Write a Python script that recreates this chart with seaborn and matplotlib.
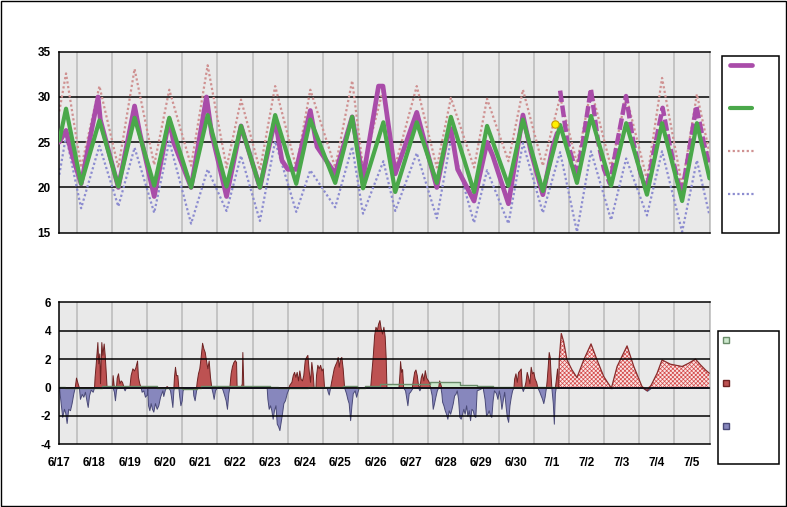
import numpy as np
import pandas as pd
import matplotlib
matplotlib.use("Agg")
import matplotlib.pyplot as plt
import seaborn as sns
from matplotlib.patches import Rectangle
from matplotlib.lines import Line2D

# --- data (time in hours from 6/17 00:00) --------------------------------
day_labels = ["6/17", "6/18", "6/19", "6/20", "6/21", "6/22", "6/23", "6/24",
              "6/25", "6/26", "6/27", "6/28", "6/29", "6/30", "7/1", "7/2",
              "7/3", "7/4", "7/5"]

# daily turning points shared by the guidance lines
turn_h = [0, 4.6, 14.9, 27.4, 40.3, 51.4, 64.8, 75.1, 90, 101.3,
          114.2, 124.1, 137, 147.4, 161.8, 171.4, 188.4, 200, 207.4, 221.3,
          229.4, 244.1, 257.8, 267.4, 283.2, 292.1, 306.7, 316.6, 330.2, 342,
          353.5, 363.1, 376.8, 387.1, 401.3, 411.6, 425.3, 435.4, 444]
green_t = [25.2, 28.7, 20.4, 27.4, 20.1, 27.7, 20.2, 27.7, 20.0, 28.0,
           20.1, 26.8, 20.0, 28.0, 20.4, 27.5, 20.5, 27.8, 19.9, 27.2,
           19.5, 27.2, 20.5, 27.8, 19.5, 26.8, 20.2, 27.5, 19.6, 26.9,
           20.5, 27.9, 20.2, 27.1, 19.2, 27.1, 18.5, 27.1, 21.0]
high_t = [28.4, 32.6, 22.2, 31.2, 22.2, 33.1, 22.5, 30.8, 22.4, 33.5,
          22.2, 29.7, 21.9, 31.2, 22.2, 30.8, 22.2, 31.8, 22.2, 30.9,
          22.4, 31.2, 22.2, 29.9, 22.2, 29.8, 22.9, 30.8, 22.4, 30.0,
          22.7, 30.9, 22.2, 30.1, 20.9, 32.1, 20.2, 30.3, 23.8]
low_t = [21.4, 25.7, 17.7, 24.6, 17.9, 24.4, 17.2, 25.1, 16.0, 22.0,
         17.4, 23.5, 16.3, 25.1, 17.3, 21.9, 17.8, 24.5, 17.1, 22.9,
         17.4, 23.8, 16.6, 25.3, 16.1, 21.9, 16.0, 24.9, 17.2, 23.9,
         15.1, 24.0, 16.4, 23.2, 16.9, 24.0, 15.1, 23.0, 16.9]

observed = [(0, 25.0), (4.6, 26.3), (8, 24.0), (14.9, 20.4), (26.5, 30.0), (28, 27.5),
            (40.3, 20.0), (51.4, 29.0), (55, 26.0), (64.8, 19.0), (75.1, 27.5),
            (78, 25.0), (90, 20.0), (100.5, 30.0), (104, 26.0), (114.2, 19.0),
            (124.1, 26.8), (137, 20.0), (147.4, 27.5), (152, 23.0), (156, 22.0),
            (161.8, 22.0), (171.4, 28.5), (176, 24.5), (188.4, 21.5), (200, 27.8),
            (207.4, 21.0), (218, 31.2), (221, 31.2), (229.4, 21.5), (244.1, 28.3),
            (257.8, 20.0), (264, 25.0), (267.4, 26.5), (272, 22.0), (283.2, 18.5),
            (292.1, 25.0), (296, 23.5), (306.7, 18.2), (316.6, 28.0), (322, 24.0),
            (330.2, 19.2), (337, 24.5), (340, 26.0)]
forecast = [(342, 30.7), (347, 25.0), (351, 22.8), (353, 21.0), (358, 25.5),
            (363, 30.9), (368, 25.0), (372, 22.0), (376, 20.4), (381, 25.0),
            (387, 30.1), (392, 25.0), (397, 21.5), (401, 19.7), (406, 24.0),
            (412, 28.8), (417, 24.5), (422, 21.0), (425, 19.3), (429, 23.0),
            (435, 29.0), (440, 25.0), (444, 22.4)]
latest_obs = (338.7, 27.0)

# departure from normal (observed part)
departure = [
    (0, -0.2), (1.1, -1.25), (2.0, -2.07), (3.2, -1.5), (4.1, -1.8), (5.0, -2.5), (6.1, -1.5),
    (7.3, -1.6), (8.4, -1.1), (9.6, -0.4), (10.5, 0), (11.4, 0.7), (12.5, 0.3), (13.4, 0),
    (14.1, -0.8), (15.3, -0.45), (16.4, -0.65), (17.5, -0.3), (18.7, -1.0), (19.4, -1.37),
    (20.3, -0.55), (21.4, -0.15), (22.8, -0.3), (23.7, 0), (24.1, 0.75), (24.8, 1.6), (26.0, 3.2),
    (26.6, 1.7), (27.3, 2.4), (27.8, 0.3), (28.7, 3.2), (29.4, 2.3), (30.3, 3.1), (31.0, 2.3),
    (31.9, 0.75), (32.3, 0), (36.0, 0), (36.4, 0.87), (37.3, -0.3), (38.0, -0.9), (38.7, -0.2),
    (39.2, 0.7), (40.1, 1.0), (41.0, 0.3), (41.9, 0.5), (42.8, 0.4), (43.7, 0.1), (44.6, -0.2),
    (45.5, 0), (47.8, 0), (48.7, 0.87), (49.9, 1.35), (51.0, 1.2), (51.9, 1.4), (53.1, 1.9),
    (53.7, 0.75), (54.6, 0.3), (55.6, 0), (56.2, -0.3), (57.4, -0.2), (58.5, -0.65), (59.7, -0.5),
    (60.1, -0.1), (60.6, -1.25), (61.5, -1.6), (62.4, -1.1), (63.3, -1.5), (64.2, -1.7),
    (65.3, -1.1), (66.5, -1.5), (67.6, -1.25), (68.8, -0.65), (70.4, -0.2), (71.0, -0.6),
    (72.2, -0.1), (73.3, 0.1), (74.5, 0), (75.6, -0.2), (76.3, -0.65), (77.2, -1.37), (77.9, -0.2),
    (78.3, 0.75), (79.0, 1.46), (79.7, 0.87), (80.6, 0.87), (81.3, 0), (81.9, -0.6), (82.7, -1.25),
    (83.6, -0.9), (84.2, -0.2), (85.2, 0), (91.1, 0), (91.5, -0.55), (92.4, -0.9), (93.4, -0.2),
    (93.8, 0.4), (94.7, 1.0), (95.6, 1.35), (96.5, 2.15), (97.5, 3.15), (98.4, 2.75), (99.3, 2.5),
    (100.2, 1.9), (101.1, 1.35), (102.0, 1.9), (102.9, 0.75), (103.8, 0), (104.7, -0.4),
    (105.4, -0.8), (106.3, -0.2), (107.5, 0), (110.9, 0), (111.6, -0.2), (112.5, -0.5),
    (113.6, -0.9), (114.5, -1.5), (115.4, -0.4), (116.1, 0), (117.0, 1.0), (117.9, 1.5),
    (118.9, 1.8), (119.8, 1.93), (120.7, 1.8), (121.1, 0), (123.9, 0), (124.6, 0.3), (125.0, 2.5),
    (125.7, 0), (141.6, 0), (142.1, -0.8), (143.0, -1.5), (143.9, -1.25), (144.8, -1.6),
    (145.7, -2.2), (146.6, -1.6), (147.6, -1.25), (148.5, -2.55), (149.4, -2.73), (150.3, -3.0),
    (151.2, -2.4), (152.1, -1.8), (153.0, -1.1), (154.1, -0.9), (155.3, -0.4), (156.4, -0.1),
    (157.1, 0.2), (158.5, 0.4), (159.4, 0.87), (160.3, 1.1), (161.2, 0.75), (162.1, 1.1),
    (163.0, 0.5), (163.9, 1.2), (164.8, 0.6), (165.7, 0.5), (166.6, 0.87), (167.6, 1.93),
    (168.5, 2.15), (169.4, 2.3), (170.3, 1.2), (171.2, 0.4), (172.1, 1.8), (173.0, 1.0),
    (173.7, 0), (174.9, 0), (175.3, 0.87), (176.2, 1.6), (177.1, 1.35), (178.1, 1.6), (179.0, 1.2),
    (179.9, 1.35), (180.8, 0), (182.6, 0), (183.3, -0.3), (184.0, -0.5), (184.9, 0), (185.6, 0.4),
    (186.5, 0.87), (187.4, 1.35), (188.3, 1.6), (189.2, 1.8), (190.1, 2.15), (190.8, 1.46),
    (191.7, 2.05), (192.6, 2.15), (193.5, 1.35), (194.5, 0), (195.8, -0.4), (196.7, -0.8),
    (197.6, -1.1), (198.6, -2.3), (199.5, -1.25), (200.4, -0.4), (201.7, -0.2), (202.7, -0.65),
    (203.6, -0.3), (204.5, 0), (211.8, 0), (212.3, 0.05), (213.2, 1.2), (214.1, 2.3), (215.0, 3.7),
    (215.9, 4.28), (216.8, 4.05), (217.7, 4.5), (218.6, 4.75), (219.5, 4.15), (220.4, 3.8),
    (221.3, 4.28), (222.2, 3.6), (222.9, 2.05), (223.4, 0), (231.6, 0), (232.3, 1.0),
    (232.7, 1.86), (233.4, 1.1), (234.1, 1.3), (234.8, 0), (236.1, -0.2), (236.8, -0.65),
    (237.7, -1.25), (238.6, -0.4), (239.5, -0.3), (240.7, -0.1), (241.4, 0.5), (242.3, 1.1),
    (243.2, 1.27), (244.1, 0.87), (245.0, 0.15), (245.9, -0.2), (246.8, 0.7), (247.7, 1.0),
    (248.6, 0.5), (249.6, 1.22), (250.5, 0.7), (251.4, 0.56), (252.3, 0.4), (253.2, 0),
    (254.3, -0.55), (255.0, -1.5), (255.9, -1.1), (256.8, -0.65), (257.8, -0.2), (258.7, 0),
    (259.4, 0.5), (260.3, 0.2), (260.9, -0.4), (261.4, -1.0), (262.3, -1.25), (263.2, -1.6),
    (264.1, -1.85), (265.0, -2.2), (265.9, -1.6), (266.9, -1.85), (267.8, -1.5), (268.7, -1.1),
    (269.6, -0.55), (270.5, -0.45), (271.4, -0.2), (272.3, -0.8), (273.2, -2.07), (274.1, -2.2),
    (275.0, -1.85), (275.9, -1.5), (276.8, -1.85), (277.8, -1.25), (278.7, -2.0), (279.6, -1.6),
    (280.5, -2.3), (281.4, -1.5), (282.3, -1.6), (283.2, -2.0), (284.1, -2.07), (285.0, -0.2),
    (287.3, -0.1), (289.1, 0), (290.4, -0.8), (291.4, -1.95), (292.3, -1.85), (293.2, -1.6),
    (294.1, -1.95), (295.0, -2.07), (295.9, -0.9), (296.8, -0.2), (298.2, -0.4), (299.2, -0.8),
    (300.1, -0.2), (301.0, -0.65), (301.9, -1.5), (302.8, -0.9), (303.8, -0.3), (304.7, -1.25),
    (305.6, -2.07), (306.5, -2.42), (307.4, -1.25), (308.3, -0.65), (309.2, -0.2), (310.1, 0),
    (310.6, 0.63), (311.5, 1.0), (312.4, 0.4), (313.3, 1.1), (314.2, 1.2), (315.1, 1.34),
    (315.8, 0), (316.5, -0.25), (317.4, 0), (318.3, 0.4), (319.2, 1.1), (320.1, 0.75),
    (321.0, 0.3), (321.9, 1.46), (322.8, 1.0), (323.7, 1.1), (324.6, 0.63), (325.6, 0.4),
    (326.5, 0), (327.8, -0.3), (328.7, -0.55), (329.6, -0.78), (330.5, -1.1), (331.4, -0.65),
    (332.3, 0), (332.8, 0.5), (333.5, 1.46), (334.2, 2.5), (334.9, 2.15), (335.5, 0.87),
    (336.0, 0), (337.0, -1.1), (337.7, -2.55), (338.4, -0.4), (339.0, 0.5), (339.9, 1.34),
    (340.6, 0.3), (341.0, 0)]

# forecast departure (hatched)
forecast_dep = [(341.0, 0), (341.4, 2.0), (342.8, 3.8), (344.4, 3.23), (346.7, 1.94),
                (350.1, 1.24), (353.5, 0.7), (358.1, 1.94), (363.1, 3.07), (367.2, 1.94),
                (371.8, 0.77), (377.0, -0.05), (380.9, 1.48), (387.7, 2.93), (392.3, 1.48),
                (397.9, 0.07), (401.4, -0.23), (404.3, 0.19), (408.2, 1.0), (411.6, 1.94),
                (417.3, 1.64), (425.3, 1.48), (429.8, 1.71), (434.4, 2.0), (437.8, 1.6),
                (441.2, 1.24), (443.9, 1.0)]

# slowly varying mean departure (green steps)
bias_h = [0, 3.8, 29, 66.5, 83.5, 94, 97, 144, 149.5, 170, 194, 203, 209,
          219, 253, 273.6, 285, 296.4, 341]
bias_v = [0.07, 0, 0.1, 0, -0.08, 0, 0.14, 0.07, 0, 0.07, 0.12, 0, 0.14,
          0.26, 0.36, 0.21, 0.14, 0.07, 0.07]

# --- colours ---------------------------------------------------------------
c_obs = "#a94ca9"
c_green = "#4aa84a"
c_high = "#cf9191"
c_low = "#8c8cd0"
c_red, c_red_edge = "#bd5252", "#6e2222"
c_blue, c_blue_edge = "#8787bd", "#4a4a78"
c_bias, c_bias_edge = "#cde9cd", "#6a8c6a"
c_grid_v = "#b9b9b9"
c_bg = "#e9e9e9"

sns.set_style("white")
plt.rcParams["font.family"] = ["Liberation Sans", "DejaVu Sans"]
plt.rcParams["axes.unicode_minus"] = False
plt.rcParams["hatch.linewidth"] = 0.5

W, H = 787, 507
fig = plt.figure(figsize=(W / 100, H / 100), dpi=100)
x0, x1 = 59.3, 709.5
ax1 = fig.add_axes([x0 / W, 1 - 232.7 / H, (x1 - x0) / W, (232.7 - 51.7) / H])
ax2 = fig.add_axes([x0 / W, 1 - 444.3 / H, (x1 - x0) / W, (444.3 - 302.3) / H])


def style_axis(ax, ylim, yticks):
    ax.set_facecolor(c_bg)
    ax.set_xlim(0, 18.5)
    ax.set_ylim(*ylim)
    ax.set_yticks(yticks)
    ax.set_xticks(np.arange(19))
    for d in np.arange(19) + 0.5:
        ax.axvline(d, color=c_grid_v, lw=1.1, zorder=0.5)
    for sp in ["left", "bottom", "top"]:
        ax.spines[sp].set_color("black")
        ax.spines[sp].set_linewidth(1.1)
    ax.spines["right"].set_color(c_grid_v)
    ax.spines["right"].set_linewidth(1.1)
    ax.tick_params(axis="y", direction="out", length=4, width=1, pad=2,
                   labelsize=8.5, colors="black")
    for lab in ax.get_yticklabels():
        lab.set_fontweight("bold")
    ax.set_xlabel("")
    ax.set_ylabel("")


# --- top: temperatures -------------------------------------------------------
turn_d = np.array(turn_h) / 24
for t in [20, 25, 30]:
    ax1.axhline(t, color="black", lw=1.1, zorder=0.8)

sns.lineplot(x=turn_d, y=high_t, ax=ax1, color=c_high, lw=1.6,
             linestyle=(0, (1, 1.1)), zorder=2)
sns.lineplot(x=turn_d, y=low_t, ax=ax1, color=c_low, lw=1.6,
             linestyle=(0, (1, 1.1)), zorder=2)

obs = pd.DataFrame(observed, columns=["h", "t"])
sns.lineplot(x=obs["h"] / 24, y=obs["t"], ax=ax1, color=c_obs, lw=3.4, zorder=3)
fc = pd.DataFrame(forecast, columns=["h", "t"])
sns.lineplot(x=fc["h"] / 24, y=fc["t"], ax=ax1, color=c_obs, lw=3.2,
             linestyle=(0, (2.6, 0.8)), zorder=3)
sns.lineplot(x=turn_d, y=green_t, ax=ax1, color=c_green, lw=3.0, zorder=4)
ax1.scatter([latest_obs[0] / 24], [latest_obs[1]], s=28, color="#fff000",
            edgecolor="#c79a00", linewidth=0.8, zorder=6)

style_axis(ax1, (15, 35), [15, 20, 25, 30, 35])
ax1.tick_params(axis="x", length=0, labelbottom=False)

# --- bottom: departures ---------------------------------------------------------
dep = pd.DataFrame(departure, columns=["h", "v"])
dd = dep["h"] / 24
ax2.fill_between(np.array(bias_h) / 24, 0, bias_v, step="post",
                 facecolor=c_bias, edgecolor="none", zorder=1)
ax2.fill_between(dd, 0, dep["v"].clip(lower=0), facecolor=c_red,
                 edgecolor=c_red_edge, lw=0.7, zorder=2)
ax2.fill_between(dd, 0, dep["v"].clip(upper=0), facecolor=c_blue,
                 edgecolor=c_blue_edge, lw=0.7, zorder=2)
sns.lineplot(x=np.array(bias_h) / 24, y=bias_v, ax=ax2, color=c_bias_edge,
             lw=1.0, drawstyle="steps-post", zorder=2.5)

fd = pd.DataFrame(forecast_dep, columns=["h", "v"])
fdd = fd["h"] / 24
ax2.fill_between(fdd, 0, fd["v"].clip(lower=0), facecolor="#fae4e4",
                 edgecolor="#d44a4a", hatch="xxxxxxxx", lw=0, zorder=2)
ax2.fill_between(fdd, 0, fd["v"].clip(upper=0), facecolor=c_blue,
                 edgecolor=c_blue_edge, lw=0.7, zorder=2)
sns.lineplot(x=fdd, y=fd["v"], ax=ax2, color="#8a2c2c", lw=0.9, zorder=2.6)

for v in [-2, 0, 2, 4]:
    ax2.axhline(v, color="black", lw=1.1, zorder=3)

style_axis(ax2, (-4, 6), [-4, -2, 0, 2, 4, 6])
ax2.set_xticklabels(day_labels)
ax2.tick_params(axis="x", direction="out", length=4, width=1, pad=5,
                labelsize=8.5, colors="black")
for lab in ax2.get_xticklabels():
    lab.set_fontweight("bold")
    lab.set_family(["Liberation Sans Narrow", "Liberation Sans", "DejaVu Sans"])

# --- legend boxes and figure frame (pixel overlay) -------------------------------
ov = fig.add_axes([0, 0, 1, 1], zorder=10)
ov.set_xlim(0, W)
ov.set_ylim(H, 0)
ov.axis("off")
ov.add_patch(Rectangle((0.5, 0.5), W - 1.5, 505, fill=False, ec="black", lw=1))

ov.add_patch(Rectangle((721.5, 55.5), 57, 177, facecolor="white", ec="black", lw=1.1))
ov.add_line(Line2D([730, 752], [65, 65], color=c_obs, lw=3.4))
ov.add_line(Line2D([730, 752], [108, 108], color=c_green, lw=3.0))
ov.add_line(Line2D([727.5, 754], [151, 151], color=c_high, lw=1.6, linestyle=(0, (1, 1.1))))
ov.add_line(Line2D([727.5, 754], [194, 194], color=c_low, lw=1.6, linestyle=(0, (1, 1.1))))

ov.add_patch(Rectangle((717.5, 330.5), 61, 133, facecolor="white", ec="black", lw=1.1))
for y, fc_, ec_ in [(336.5, c_bias, c_bias_edge), (379.5, c_red, c_red_edge),
                    (422.5, c_blue, c_blue_edge)]:
    ov.add_patch(Rectangle((722.5, y), 6, 6, facecolor=fc_, ec=ec_, lw=1))

fig.savefig("out.png", dpi=100, facecolor="white")
